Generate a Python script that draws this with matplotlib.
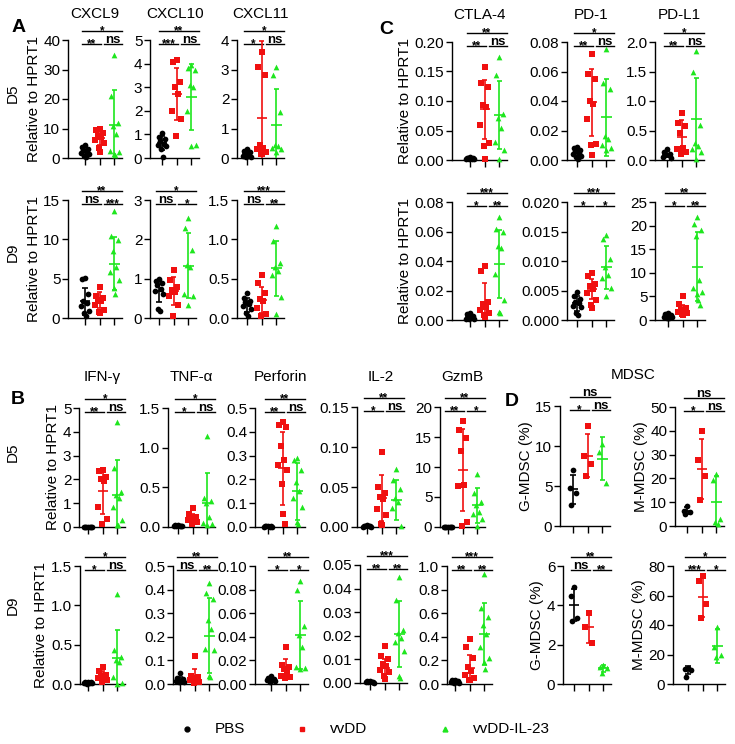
import numpy as np
import matplotlib
matplotlib.use('Agg')
import matplotlib.pyplot as plt
from matplotlib.lines import Line2D

plt.rcParams['font.family'] = ['Liberation Sans', 'DejaVu Sans']

W, H = 735, 744
SP = 14.7  # px between the three groups

GROUPS = ['PBS', 'vvDD', 'vvDD-IL-23']
COLORS = ['black', '#f01010', '#1ee61e']
MARKERS = ['o', 's', '^']

# ---- A: chemokines (points per group, then mean/sd per group) ----
CXCL9_D5 = [[4.4, 3.8, 3.0, 2.6, 2.2, 1.8, 1.2, 0.8, 0.3],
            [10.0, 9.5, 8.5, 7.5, 7.0, 6.0, 5.0, 3.5, 2.0],
            [35, 21, 12, 11, 8, 2.5, 2.0, 1.5, 1.0]]
CXCL9_D5_MSD = [(2.2, 1.4), (6.9, 2.5), (11.3, 11.7)]
CXCL10_D5 = [[1.05, 0.9, 0.8, 0.7, 0.6, 0.55, 0.5, 0.4, 0.05],
             [4.15, 4.05, 3.2, 3.0, 2.7, 2.0, 1.65, 0.92],
             [3.95, 3.8, 3.75, 3.1, 3.0, 2.0, 0.56, 0.5]]
CXCL10_D5_MSD = [(0.65, 0.3), (2.72, 1.1), (2.6, 1.4)]
CXCL11_D5 = [[0.3, 0.25, 0.2, 0.15, 0.1, 0.08, 0.05, 0.02],
             [3.6, 3.1, 2.8, 0.45, 0.35, 0.3, 0.2, 0.15, 0.15],
             [3.1, 2.8, 1.55, 0.45, 0.4, 0.35, 0.3, 0.2]]
CXCL11_D5_MSD = [(0.13, 0.08), (1.35, 2.6), (1.13, 1.2)]
CXCL9_D9 = [[5.1, 4.9, 3.0, 2.2, 1.9, 1.5, 0.9, 0.6, 0.3],
            [4.0, 2.8, 2.5, 2.3, 2.1, 1.7, 1.0, 0.8, 0.6],
            [13.6, 10.4, 9.9, 8.5, 6.5, 5.8, 4.8, 3.8, 3.0]]
CXCL9_D9_MSD = [(2.1, 1.7), (2.3, 1.0), (6.9, 3.4)]
CXCL10_D9 = [[1.0, 0.95, 0.9, 0.85, 0.75, 0.68, 0.6, 0.22, 0.18],
             [1.22, 0.97, 0.8, 0.7, 0.65, 0.55, 0.34, 0.04],
             [2.54, 2.28, 1.73, 1.35, 1.3, 0.6, 0.55, 0.34]]
CXCL10_D9_MSD = [(0.68, 0.28), (0.68, 0.36), (1.33, 0.83)]
CXCL11_D9 = [[0.32, 0.26, 0.22, 0.2, 0.18, 0.15, 0.11, 0.06, 0.03],
             [0.55, 0.44, 0.32, 0.24, 0.22, 0.13, 0.05, 0.03],
             [1.17, 0.98, 0.7, 0.65, 0.6, 0.55, 0.27, 0.05]]
CXCL11_D9_MSD = [(0.17, 0.09), (0.23, 0.17), (0.63, 0.35)]

# ---- C: checkpoints ----
CTLA4_D5 = [[0.005, 0.004, 0.003, 0.003, 0.002, 0.002, 0.001, 0.001],
            [0.158, 0.13, 0.123, 0.093, 0.089, 0.06, 0.028, 0.024, 0.001],
            [0.175, 0.144, 0.078, 0.072, 0.054, 0.031, 0.017, 0.001]]
CTLA4_D5_MSD = [(0.003, 0.001), (0.086, 0.05), (0.076, 0.058)]
PD1_D5 = [[0.009, 0.008, 0.007, 0.006, 0.005, 0.004, 0.003, 0.002, 0.001],
          [0.072, 0.058, 0.055, 0.04, 0.038, 0.028, 0.011, 0.01, 0.0035],
          [0.075, 0.052, 0.048, 0.016, 0.014, 0.01, 0.008, 0.007]]
PD1_D5_MSD = [(0.005, 0.002), (0.039, 0.023), (0.029, 0.026)]
PDL1_D5 = [[0.18, 0.14, 0.11, 0.09, 0.085, 0.056, 0.03],
           [0.8, 0.63, 0.57, 0.45, 0.2, 0.18, 0.14, 0.11],
           [1.85, 1.5, 0.6, 0.28, 0.23, 0.18, 0.14, 0.01]]
PDL1_D5_MSD = [(0.1, 0.05), (0.39, 0.28), (0.69, 0.7)]
CTLA4_D9 = [[0.005, 0.004, 0.003, 0.002, 0.002, 0.001, 0.001, 0.0005],
            [0.0365, 0.0335, 0.0125, 0.011, 0.009, 0.0065, 0.005, 0.0035, 0.002],
            [0.07, 0.062, 0.06, 0.05, 0.049, 0.0315, 0.0135, 0.0056, 0.0045]]
CTLA4_D9_MSD = [(0.002, 0.0015), (0.0124, 0.0124), (0.038, 0.023)]
PD1_D9 = [[0.0048, 0.004, 0.0035, 0.003, 0.0028, 0.0024, 0.0022, 0.0012, 0.0009],
          [0.0079, 0.0074, 0.0061, 0.0057, 0.0052, 0.0045, 0.0034, 0.0025, 0.0021],
          [0.0144, 0.0137, 0.0104, 0.009, 0.0076, 0.0072, 0.0055, 0.004]]
PD1_D9_MSD = [(0.0028, 0.0012), (0.0052, 0.0017), (0.0089, 0.0036)]
PDL1_D9 = [[1.4, 1.2, 1.0, 0.9, 0.8, 0.7, 0.6, 0.5, 0.4],
           [5.0, 3.4, 2.6, 2.2, 1.9, 1.6, 1.4, 1.2, 1.0],
           [21.8, 20.4, 19.0, 17.7, 8.4, 6.7, 6.0, 5.6, 4.2, 3.2]]
PDL1_D9_MSD = [(0.8, 0.3), (2.0, 1.2), (11.3, 7.3)]

# ---- B: effector molecules ----
IFNG_D5 = [[0.02, 0.015, 0.01, 0.01, 0.005, 0.005, 0.003],
           [2.4, 2.35, 2.1, 2.0, 1.95, 0.85, 0.35, 0.12],
           [4.4, 2.5, 1.45, 1.35, 1.2, 0.85, 0.3, 0.1, 0.07]]
IFNG_D5_MSD = [(0.01, 0.005), (1.5, 0.95), (1.34, 1.48)]
TNFA_D5 = [[0.025, 0.02, 0.018, 0.015, 0.012, 0.01, 0.008],
           [0.24, 0.16, 0.13, 0.11, 0.1, 0.085, 0.065, 0.04],
           [1.15, 0.36, 0.33, 0.3, 0.12, 0.05, 0.04, 0.02]]
TNFA_D5_MSD = [(0.015, 0.005), (0.1, 0.06), (0.3, 0.38)]
PRF_D5 = [[0.005, 0.004, 0.003, 0.003, 0.002, 0.002, 0.001],
          [0.44, 0.43, 0.42, 0.34, 0.28, 0.26, 0.24, 0.18, 0.055, 0.012],
          [0.29, 0.28, 0.24, 0.19, 0.15, 0.12, 0.085, 0.021, 0.014]]
PRF_D5_MSD = [(0.003, 0.001), (0.246, 0.155), (0.15, 0.12)]
IL2_D5 = [[0.002, 0.0015, 0.001, 0.001, 0.0008, 0.0005, 0.0003],
          [0.094, 0.05, 0.043, 0.037, 0.035, 0.023, 0.015, 0.004, 0.002],
          [0.072, 0.059, 0.048, 0.036, 0.031, 0.024, 0.001]]
IL2_D5_MSD = [(0.001, 0.0005), (0.036, 0.029), (0.034, 0.025)]
GZMB_D5 = [[0.08, 0.06, 0.05, 0.04, 0.03, 0.02, 0.01],
           [17.6, 16.2, 14.8, 12.6, 7.0, 6.8, 0.8, 0.15],
           [8.9, 5.6, 4.2, 3.6, 2.5, 2.2, 1.4, 0.1]]
GZMB_D5_MSD = [(0.04, 0.02), (9.5, 6.8), (3.6, 2.9)]
IFNG_D9 = [[0.03, 0.025, 0.02, 0.015, 0.012, 0.01, 0.008, 0.005],
           [0.22, 0.16, 0.12, 0.1, 0.09, 0.075, 0.05, 0.03],
           [1.14, 0.43, 0.34, 0.3, 0.28, 0.09, 0.01, 0.005]]
IFNG_D9_MSD = [(0.015, 0.008), (0.1, 0.06), (0.33, 0.36)]
TNFA_D9 = [[0.048, 0.025, 0.02, 0.017, 0.014, 0.012, 0.01, 0.008],
           [0.12, 0.035, 0.03, 0.025, 0.02, 0.017, 0.01, 0.005],
           [0.43, 0.385, 0.36, 0.27, 0.235, 0.15, 0.145, 0.034, 0.028]]
TNFA_D9_MSD = [(0.018, 0.013), (0.025, 0.04), (0.205, 0.16)]
PRF_D9 = [[0.0065, 0.005, 0.0045, 0.004, 0.0035, 0.003, 0.0025, 0.002],
          [0.031, 0.016, 0.014, 0.013, 0.009, 0.0065, 0.006, 0.005],
          [0.0876, 0.08, 0.049, 0.0415, 0.0316, 0.0147, 0.0133, 0.013]]
PRF_D9_MSD = [(0.004, 0.0013), (0.0133, 0.008), (0.0415, 0.029)]
IL2_D9 = [[0.001, 0.0008, 0.0006, 0.0005, 0.0004, 0.0003, 0.0002],
          [0.0155, 0.0113, 0.01, 0.008, 0.007, 0.0055, 0.0045, 0.003, 0.0015],
          [0.045, 0.035, 0.0225, 0.021, 0.019, 0.0175, 0.0135, 0.0028, 0.0021]]
IL2_D9_MSD = [(0.0005, 0.0003), (0.0063, 0.0037), (0.0208, 0.014)]
GZMB_D9 = [[0.035, 0.03, 0.025, 0.02, 0.018, 0.015, 0.012, 0.01],
           [0.378, 0.31, 0.22, 0.14, 0.11, 0.08, 0.05, 0.035, 0.03],
           [0.93, 0.64, 0.57, 0.5, 0.424, 0.31, 0.22, 0.19, 0.125]]
GZMB_D9_MSD = [(0.02, 0.008), (0.133, 0.115), (0.424, 0.26)]

# ---- D: MDSC (%) ----
GMDSC_D5 = [[7.0, 4.7, 4.1, 2.6], [12.5, 8.7, 7.8, 6.2], [10.2, 9.3, 5.4]]
GMDSC_D5_MSD = [(4.6, 1.8), (8.8, 2.7), (8.4, 2.7)]
MMDSC_D5 = [[8.4, 6.5, 5.8, 5.1], [40, 27.7, 21, 10.8], [21.8, 19.3, 3.1, 1.7, 1.0]]
MMDSC_D5_MSD = [(6.4, 1.4), (24.0, 12.6), (10.2, 10.8)]
GMDSC_D9 = [[4.95, 4.45, 3.35, 3.2], [3.63, 2.88, 2.1], [0.95, 0.85, 0.8, 0.55]]
GMDSC_D9_MSD = [(4.0, 0.82), (2.88, 0.77), (0.8, 0.19)]
MMDSC_D9 = [[10.9, 10.5, 9.8, 4.9], [73, 70, 54, 45], [38.4, 25.3, 19.7, 18.5]]
MMDSC_D9_MSD = [(9.5, 2.6), (58.8, 13.5), (25.8, 11.8)]

fig = plt.figure(figsize=(W / 100, H / 100), dpi=100)


def offsets(n):
    pat = [0, -0.22, 0.22, -0.11, 0.11, -0.3, 0.3, -0.05, 0.05, 0.16]
    return np.array([pat[i % len(pat)] for i in range(n)])


def draw(pts, msd, ymax, step, dec, sig, box, title=None, title_y=None, ylabel=None):
    spine, tick0, top, zero = box
    end = tick0 + 2 * SP + 8
    ax = fig.add_axes([spine / W, 1 - zero / H, (end - spine) / W, (zero - top) / H])
    ax.set_xlim(-(tick0 - spine) / SP, 2 + 8 / SP)
    ax.set_ylim(0, ymax)
    for s in ['top', 'right']:
        ax.spines[s].set_visible(False)
    for s in ['left', 'bottom']:
        ax.spines[s].set_linewidth(1.0)
    ticks = np.arange(0, ymax + step / 2, step)
    ax.set_yticks(ticks)
    ax.set_yticklabels([f'{t:.{dec}f}' for t in ticks])
    ax.set_xticks([0, 1, 2])
    ax.set_xticklabels([])
    ax.tick_params(axis='y', length=4, width=1.0, labelsize=11, pad=1.5)
    ax.tick_params(axis='x', length=5, width=1.0)
    for g in range(3):
        y = np.array(pts[g])
        x = g + offsets(len(y))
        ax.scatter(x, y, s=17, marker=MARKERS[g], color=COLORS[g], linewidths=0,
                   clip_on=False, zorder=3)
        m, sd = msd[g]
        kw = dict(color=COLORS[g], lw=1.2, zorder=4, solid_capstyle='butt')
        ax.plot([g - 0.35, g + 0.35], [m, m], **kw)
        ax.plot([g, g], [max(m - sd, 0), m + sd], **kw)
        ax.plot([g - 0.18, g + 0.18], [m + sd, m + sd], **kw)
        if m - sd > 0:
            ax.plot([g - 0.18, g + 0.18], [m - sd, m - sd], **kw)
    h = zero - top
    tr = ax.get_xaxis_transform()
    ylow = 1 - 4 / h
    yhigh = 1 + 9 / h
    for (x0, x1, yb, lab) in [(-0.2, 1.08, ylow, sig[0]), (1.3, 2.5, ylow, sig[1]),
                              (-0.2, 2.5, yhigh, sig[2])]:
        ax.plot([x0, x1], [yb, yb], color='black', lw=1.0, transform=tr, clip_on=False)
        if lab == 'ns':
            ax.text((x0 + x1) / 2, yb + 1 / h, lab, ha='center', va='baseline',
                    fontsize=9.5, weight='bold', transform=tr)
        else:
            ax.text((x0 + x1) / 2, yb - 3.5 / h, lab, ha='center', va='baseline',
                    fontsize=8.5, weight='bold', transform=tr)
    if title:
        fig.text((spine + end) / 2 / W, 1 - title_y / H, title, ha='center', va='center',
                 fontsize=11)
    if ylabel:
        ax.set_ylabel(ylabel, fontsize=11, labelpad=2)
    return ax


REL = 'Relative to HPRT1'

# panel A
draw(CXCL9_D5, CXCL9_D5_MSD, 40, 10, 0, ['**', 'ns', '*'], (68, 85, 40, 158), 'CXCL9', 14, REL)
draw(CXCL10_D5, CXCL10_D5_MSD, 5, 1, 0, ['***', 'ns', '**'], (150, 162, 40, 158), 'CXCL10', 14)
draw(CXCL11_D5, CXCL11_D5_MSD, 4, 1, 0, ['*', 'ns', '*'], (237, 247, 40, 158), 'CXCL11', 14)
draw(CXCL9_D9, CXCL9_D9_MSD, 15, 5, 0, ['ns', '***', '**'], (68, 85, 200, 318), ylabel=REL)
draw(CXCL10_D9, CXCL10_D9_MSD, 3, 1, 0, ['ns', '*', '*'], (150, 159, 200, 318))
draw(CXCL11_D9, CXCL11_D9_MSD, 1.5, 0.5, 1, ['ns', '**', '***'], (237, 247, 200, 318))

# panel C
draw(CTLA4_D5, CTLA4_D5_MSD, 0.20, 0.05, 2, ['**', 'ns', '**'], (452, 470, 42, 160), 'CTLA-4', 15, REL)
draw(PD1_D5, PD1_D5_MSD, 0.08, 0.02, 2, ['**', 'ns', '*'], (567, 577, 42, 160), 'PD-1', 15)
draw(PDL1_D5, PDL1_D5_MSD, 2.0, 0.5, 1, ['**', 'ns', '*'], (655, 667, 42, 160), 'PD-L1', 15)
draw(CTLA4_D9, CTLA4_D9_MSD, 0.08, 0.02, 2, ['*', '**', '***'], (452, 470, 202, 320), ylabel=REL)
draw(PD1_D9, PD1_D9_MSD, 0.020, 0.005, 3, ['*', '*', '***'], (567, 577, 202, 320))
draw(PDL1_D9, PDL1_D9_MSD, 25, 5, 0, ['*', '**', '**'], (655, 668, 202, 320))

# panel B
draw(IFNG_D5, IFNG_D5_MSD, 5, 1, 0, ['**', 'ns', '*'], (79, 88, 408, 527), 'IFN-\u03b3', 377, REL)
draw(TNFA_D5, TNFA_D5_MSD, 1.5, 0.5, 1, ['*', 'ns', '*'], (168, 178, 408, 527), 'TNF-\u03b1', 377)
draw(PRF_D5, PRF_D5_MSD, 0.5, 0.1, 1, ['**', 'ns', '**'], (255, 268, 408, 527), 'Perforin', 377)
draw(IL2_D5, IL2_D5_MSD, 0.15, 0.05, 2, ['*', 'ns', '**'], (357, 367, 407, 527), 'IL-2', 377)
draw(GZMB_D5, GZMB_D5_MSD, 20, 5, 0, ['**', '*', '**'], (440, 448, 407, 527), 'GzmB', 377)
draw(IFNG_D9, IFNG_D9_MSD, 1.5, 0.5, 1, ['*', 'ns', '*'], (80, 88, 566, 684), ylabel=REL)
draw(TNFA_D9, TNFA_D9_MSD, 0.5, 0.1, 1, ['ns', '**', '**'], (173, 180, 566, 684))
draw(PRF_D9, PRF_D9_MSD, 0.10, 0.02, 2, ['*', '*', '**'], (255, 271, 566, 684))
draw(IL2_D9, IL2_D9_MSD, 0.05, 0.01, 2, ['**', '**', '***'], (360, 370, 565, 683))
draw(GZMB_D9, GZMB_D9_MSD, 1.0, 0.2, 1, ['**', '**', '***'], (447, 455, 566, 684))

# panel D
draw(GMDSC_D5, GMDSC_D5_MSD, 15, 5, 0, ['*', 'ns', 'ns'], (560, 573, 406, 526), ylabel='G-MDSC (%)')
draw(MMDSC_D5, MMDSC_D5_MSD, 50, 10, 0, ['*', 'ns', 'ns'], (675, 687, 407, 526), ylabel='M-MDSC (%)')
draw(GMDSC_D9, GMDSC_D9_MSD, 6, 2, 0, ['ns', '**', '**'], (563, 574, 566, 684), ylabel='G-MDSC (%)')
draw(MMDSC_D9, MMDSC_D9_MSD, 80, 20, 0, ['***', '*', '*'], (673, 688, 566, 684), ylabel='M-MDSC (%)')

# panel letters, row labels, titles
for lab, x, y in [('A', 19, 28), ('C', 386, 30), ('B', 18, 400), ('D', 512, 402)]:
    fig.text(x / W, 1 - y / H, lab, fontsize=14, weight='bold', ha='center', va='center')
for lab, y in [('D5', 93), ('D9', 252), ('D5', 452), ('D9', 605)]:
    fig.text(13 / W, 1 - y / H, lab, fontsize=11, rotation=90, ha='center', va='center')
fig.text(633 / W, 1 - 375 / H, 'MDSC', fontsize=11, ha='center', va='center')

# legend
for (mx, tx, g) in [(187, 215, 0), (302, 330, 1), (445, 473, 2)]:
    fig.add_artist(Line2D([mx / W], [1 - 729 / H], marker=MARKERS[g], color=COLORS[g],
                          markersize=3.5, linestyle='none', transform=fig.transFigure))
    fig.text(tx / W, 1 - 729 / H, GROUPS[g], fontsize=11, ha='left', va='center')

fig.savefig('out.png', dpi=100)
